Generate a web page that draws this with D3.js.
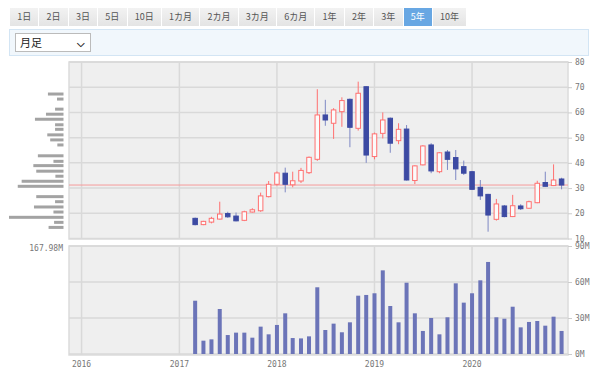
<!DOCTYPE html>
<html>
<head>
<meta charset="utf-8">
<script src="https://cdn.jsdelivr.net/npm/d3@7"></script>
<style>
  body { margin: 0; width: 600px; height: 376px; background: #fff; position: relative; overflow: hidden;
         font-family: "Noto Sans CJK JP", sans-serif; }
  #buttons { position: absolute; left: 10px; top: 8px; display: flex; }
  #buttons div { height: 18px; line-height: 18px; font-size: 9px; color: #555; padding: 0 7.2px;
                 background: linear-gradient(#f2f2f2, #e4e4e4); border-right: 1px solid #fff; box-sizing: border-box; }
  #buttons div.on { background: #68a7e3; color: #fff; }
  #panel { position: absolute; left: 9px; top: 29px; width: 580px; height: 27px; box-sizing: border-box;
           background: #f1f7fc; border: 1px solid #d3e5f4; }
  #select { position: absolute; left: 5px; top: 3px; width: 76px; height: 19px; box-sizing: border-box;
            background: #fff; border: 1px solid #bbb; font-size: 11px; line-height: 17px; padding-left: 4px; color: #222; }
  #select span { position: absolute; right: 5px; top: 0; font-size: 10px; font-weight: bold; }
  svg { position: absolute; left: 0; top: 0; }
</style>
</head>
<body>
<div id="buttons"></div>
<div id="panel"><div id="select">月足<span>&#x2335;</span></div></div>
<div id="chart"></div>
<script>
// ranges
const rangeLabels = ["1日", "2日", "3日", "5日", "10日", "1カ月", "2カ月", "3カ月", "6カ月", "1年", "2年", "3年", "5年", "10年"];
const activeRange = "5年";

// monthly candles
const months = ["2017-03", "2017-04", "2017-05", "2017-06", "2017-07", "2017-08", "2017-09", "2017-10", "2017-11", "2017-12",
  "2018-01", "2018-02", "2018-03", "2018-04", "2018-05", "2018-06", "2018-07", "2018-08", "2018-09", "2018-10", "2018-11", "2018-12",
  "2019-01", "2019-02", "2019-03", "2019-04", "2019-05", "2019-06", "2019-07", "2019-08", "2019-09", "2019-10", "2019-11", "2019-12",
  "2020-01", "2020-02", "2020-03", "2020-04", "2020-05", "2020-06", "2020-07", "2020-08", "2020-09", "2020-10", "2020-11", "2020-12"];
const open = [18.0, 15.5, 16.5, 17.7, 19.9, 18.9, 17.2, 20.5, 21.0, 26.6,
  31.5, 35.9, 31.3, 32.8, 36.1, 41.4, 59.0, 55.7, 60.3, 65.2, 53.7, 70.2,
  42.5, 51.7, 57.7, 48.8, 53.4, 33.0, 39.2, 47.1, 36.5, 44.3, 42.1, 38.5,
  36.5, 30.3, 27.5, 17.6, 22.9, 18.7, 22.9, 22.0, 24.2, 32.2, 31.0, 33.6];
const high = [18.3, 17.0, 18.6, 24.6, 20.6, 20.3, 21.0, 22.0, 28.2, 32.8,
  36.6, 38.1, 36.5, 38.0, 42.5, 69.2, 65.0, 61.7, 66.0, 65.5, 72.2, 70.4,
  52.0, 60.0, 58.0, 55.7, 55.0, 39.0, 47.0, 47.8, 44.3, 45.1, 45.1, 40.9,
  36.8, 33.2, 27.7, 25.7, 23.3, 27.3, 23.6, 25.0, 32.9, 36.5, 39.4, 34.1];
const low = [15.2, 15.3, 16.0, 17.5, 18.2, 16.8, 16.9, 20.3, 20.6, 26.3,
  31.0, 28.3, 30.3, 32.0, 35.6, 40.8, 54.7, 49.5, 54.3, 46.2, 52.8, 40.0,
  41.4, 49.7, 44.0, 47.4, 33.0, 31.6, 39.0, 35.9, 35.9, 37.2, 33.2, 35.2,
  29.3, 25.3, 12.7, 17.1, 18.4, 18.5, 21.3, 21.8, 24.0, 30.6, 30.8, 29.5];
const close = [15.5, 16.8, 18.0, 19.7, 18.6, 17.0, 20.6, 21.4, 26.9, 31.5,
  36.0, 31.5, 32.9, 37.0, 42.2, 59.0, 57.0, 61.0, 64.7, 54.1, 67.6, 43.1,
  51.5, 57.0, 47.8, 53.3, 33.2, 38.8, 46.7, 36.8, 44.0, 41.4, 37.6, 35.9,
  29.5, 26.9, 19.3, 23.7, 18.7, 23.0, 21.8, 24.6, 31.9, 30.7, 33.2, 31.2];
// monthly volume, millions of shares
const volume = [44.4, 11.1, 12.2, 37.5, 15.8, 17.8, 17.8, 13.6, 22.8, 16.4,
  24.2, 33.9, 13.3, 13.0, 14.7, 55.6, 20.0, 25.3, 18.1, 26.4, 48.6, 49.2,
  50.6, 69.7, 40.0, 26.4, 59.4, 33.9, 19.2, 30.0, 16.4, 30.6, 58.9, 42.8,
  50.6, 61.4, 76.7, 30.6, 29.4, 39.4, 22.2, 26.7, 27.5, 23.6, 31.1, 19.2];
const lastPrice = 31.2;

// volume by price (bin centre, millions)
const profilePrice = [67.3, 65.3, 61.3, 59.3, 57.3, 55.1, 53.3, 51.1, 49.1, 47.1, 42.8, 40.6,
  38.9, 36.7, 34.7, 32.7, 30.7, 26.6, 24.6, 22.5, 20.5, 18.4, 16.4, 14.4];
const profileVolume = [48, 20, 26, 54, 88, 26, 26, 50, 41, 19, 79, 31,
  93, 84, 25, 129, 141, 84, 26, 91, 31, 167.98, 29, 46];
const profileMax = 167.98;

const priceTicks = [10, 20, 30, 40, 50, 60, 70, 80];
const volumeTicks = [0, 30, 60, 90];
const yearTicks = ["2016", "2017", "2018", "2019", "2020"];

// ---- controls
d3.select("#buttons").selectAll("div")
  .data(rangeLabels)
  .join("div")
  .classed("on", d => d === activeRange)
  .text(d => d);

// ---- chart
const width = 600, height = 376;
const left = 69, right = 568;
const priceTop = 62, priceBottom = 239;
const volTop = 246, volBottom = 354;
const parseMonth = d3.timeParse("%Y-%m");
const dates = months.map(parseMonth);

const svg = d3.select("#chart").append("svg")
  .attr("width", width)
  .attr("height", height);

const x = d3.scaleTime()
  .domain([new Date(2015, 10, 15), new Date(2020, 11, 25)])
  .range([left, right]);
const y = d3.scaleLinear().domain([10, 80]).range([priceBottom - 0.5, priceTop]);
const yv = d3.scaleLinear().domain([0, 90]).range([volBottom, volTop]);
const px = d3.scaleLinear().domain([0, profileMax]).range([0, 54.5]);

const monoFont = "'DejaVu Sans Mono', monospace";
const gridColor = "#d9d9d9";

function panel(top, bottom) {
  svg.append("rect")
    .attr("x", left).attr("y", top)
    .attr("width", right - left).attr("height", bottom - top)
    .attr("fill", "#efefef")
    .attr("stroke", "#dcdcdc")
    .attr("stroke-width", 1.5);
  svg.append("g").selectAll("line")
    .data(yearTicks)
    .join("line")
    .attr("x1", d => x(parseMonth(d + "-01")))
    .attr("x2", d => x(parseMonth(d + "-01")))
    .attr("y1", top).attr("y2", bottom)
    .attr("stroke", gridColor)
    .attr("stroke-width", 1.5);
}

panel(priceTop, priceBottom);
panel(volTop, volBottom + 1);

// price gridlines + right axis
const priceAxis = svg.append("g")
  .attr("transform", `translate(${right},0)`)
  .call(d3.axisRight(y).tickValues(priceTicks).tickSize(4).tickPadding(3));
priceAxis.select(".domain").remove();
priceAxis.selectAll(".tick line").attr("stroke", "#ccc");
priceAxis.selectAll(".tick text").attr("fill", "#777").style("font", `8px ${monoFont}`);
svg.append("g").selectAll("line")
  .data(priceTicks)
  .join("line")
  .attr("x1", left).attr("x2", right)
  .attr("y1", d => y(d)).attr("y2", d => y(d))
  .attr("stroke", gridColor)
  .attr("stroke-width", 1.5);

// volume gridlines + right axis
const volAxis = svg.append("g")
  .attr("transform", `translate(${right},0)`)
  .call(d3.axisRight(yv).tickValues(volumeTicks).tickSize(4).tickPadding(3).tickFormat(d => d + "M"));
volAxis.select(".domain").remove();
volAxis.selectAll(".tick line").attr("stroke", "#ccc");
volAxis.selectAll(".tick text").attr("fill", "#777").style("font", `8px ${monoFont}`);
svg.append("g").selectAll("line")
  .data(volumeTicks)
  .join("line")
  .attr("x1", left).attr("x2", right)
  .attr("y1", d => yv(d)).attr("y2", d => yv(d))
  .attr("stroke", gridColor)
  .attr("stroke-width", 1.5);

// year labels
svg.append("g").selectAll("text")
  .data(yearTicks)
  .join("text")
  .attr("x", d => x(parseMonth(d + "-01")))
  .attr("y", 367)
  .attr("text-anchor", "middle")
  .attr("fill", "#777")
  .style("font", `8px ${monoFont}`)
  .text(d => d);

// volume-by-price profile
svg.append("g").selectAll("rect")
  .data(profilePrice)
  .join("rect")
  .attr("x", (d, i) => 63.5 - px(profileVolume[i]))
  .attr("y", d => y(d) - 1.5)
  .attr("width", (d, i) => px(profileVolume[i]))
  .attr("height", 3)
  .attr("fill", "#a3a3a3");

svg.append("text")
  .attr("x", 63)
  .attr("y", volTop + 5)
  .attr("text-anchor", "end")
  .attr("fill", "#777")
  .style("font", `8px ${monoFont}`)
  .text(d3.format(".2f")(profileMax) + "M");

// last price line
svg.append("line")
  .attr("x1", left).attr("x2", right)
  .attr("y1", y(lastPrice)).attr("y2", y(lastPrice))
  .attr("stroke", "#f59a9a")
  .attr("stroke-width", 1);

// candles
const up = "#ff7070", down = "#3c4aa3", downWick = "#7e88c4";
const bodyW = 4.5;
const candles = svg.append("g").selectAll("g")
  .data(dates)
  .join("g");
candles.append("line")
  .attr("x1", d => x(d)).attr("x2", d => x(d))
  .attr("y1", (d, i) => y(high[i]))
  .attr("y2", (d, i) => y(low[i]))
  .attr("stroke", (d, i) => close[i] >= open[i] ? up : downWick)
  .attr("stroke-width", 1);
candles.append("rect")
  .attr("x", d => x(d) - bodyW / 2)
  .attr("y", (d, i) => y(Math.max(open[i], close[i])))
  .attr("width", bodyW)
  .attr("height", (d, i) => Math.max(1.5, Math.abs(y(open[i]) - y(close[i]))))
  .attr("fill", (d, i) => close[i] >= open[i] ? "#fbfbfb" : down)
  .attr("stroke", (d, i) => close[i] >= open[i] ? up : down)
  .attr("stroke-width", 1);

// volume bars
svg.append("g").selectAll("rect")
  .data(dates)
  .join("rect")
  .attr("x", d => x(d) - 2)
  .attr("y", (d, i) => yv(volume[i]))
  .attr("width", 4)
  .attr("height", (d, i) => yv(0) - yv(volume[i]))
  .attr("fill", "#6b74b8");
</script>
</body>
</html>
